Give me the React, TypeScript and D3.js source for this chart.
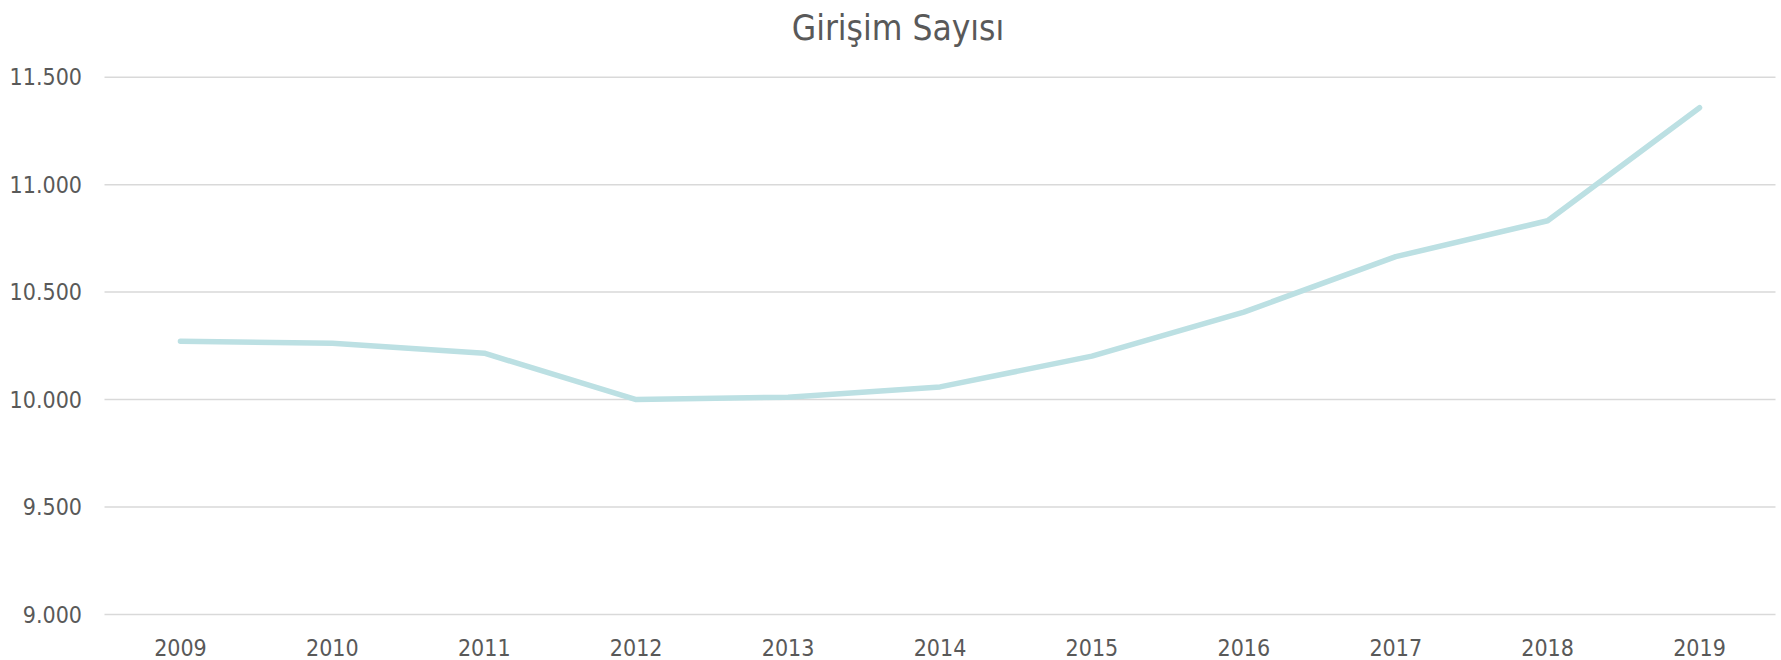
import React from "react";
import * as d3 from "d3";

const title = "Girişim Sayısı";
const years = ["2009", "2010", "2011", "2012", "2013", "2014", "2015", "2016", "2017", "2018", "2019"];
const values = [10271, 10262, 10216, 10000, 10011, 10059, 10202, 10407, 10665, 10832, 11358];
const yTicks = [9000, 9500, 10000, 10500, 11000, 11500];

const W = 1781;
const H = 660;
const left = 104.5;
const right = 1775.5;
const top = 77.2;
const bottom = 614.5;
const FONT = "'DejaVu Sans Condensed', 'DejaVu Sans', sans-serif";

const fmt = (v: number) => d3.format(",")(v).replace(/,/g, ".");

export default function App() {
  const x = d3.scaleBand<string>().domain(years).range([left, right]).padding(0);
  const y = d3.scaleLinear().domain([9000, 11500]).range([bottom, top]);
  const line = d3
    .line<number>()
    .x((_, i) => (x(years[i]) as number) + x.bandwidth() / 2)
    .y((d) => y(d));

  return (
    <svg
      width={W}
      height={H}
      style={{ position: "absolute", left: 0, top: 0, background: "#fff" }}
      fontFamily={FONT}
    >
      <rect x={0} y={0} width={W} height={H} fill="#fff" />
      <text x={898} y={40} textAnchor="middle" fontSize={35} fill="#595959">
        {title}
      </text>
      {yTicks.map((t) => (
        <g key={t}>
          <line x1={left} x2={right} y1={y(t)} y2={y(t)} stroke="#d9d9d9" strokeWidth={1.5} />
          <text x={82} y={y(t)} dy="0.36em" textAnchor="end" fontSize={23} fill="#595959">
            {fmt(t)}
          </text>
        </g>
      ))}
      {years.map((yr) => (
        <text
          key={yr}
          x={(x(yr) as number) + x.bandwidth() / 2}
          y={656}
          textAnchor="middle"
          fontSize={23}
          fill="#595959"
        >
          {yr}
        </text>
      ))}
      <path
        d={line(values) || ""}
        fill="none"
        stroke="#bce0e3"
        strokeWidth={5.5}
        strokeLinecap="round"
        strokeLinejoin="round"
      />
    </svg>
  );
}
